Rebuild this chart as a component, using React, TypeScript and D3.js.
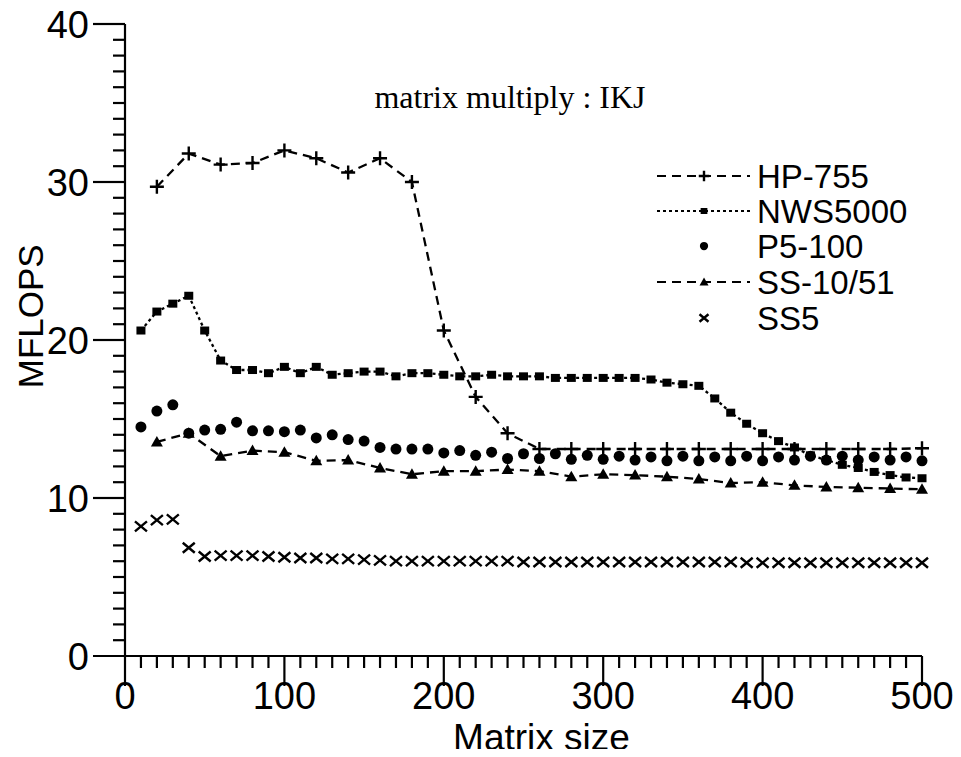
import * as d3 from "d3";

// matrix size on x, MFLOPS on y
const hpX = [20, 40, 60, 80, 100, 120, 140, 160, 180, 200, 220, 240, 260, 280, 300, 320, 340, 360, 380, 400, 420, 440, 460, 480, 500];
const hpY = [29.7, 31.8, 31.1, 31.2, 32.0, 31.5, 30.6, 31.5, 30.0, 20.6, 16.4, 14.1, 13.1, 13.1, 13.1, 13.1, 13.1, 13.1, 13.1, 13.1, 13.1, 13.1, 13.1, 13.1, 13.15];

const tenX = d3.range(10, 501, 10);
const nwsY = [20.6, 21.8, 22.3, 22.8, 20.6, 18.7, 18.1, 18.1, 17.9, 18.3, 17.9, 18.3, 17.8, 17.9, 18.0, 18.0, 17.7, 17.9, 17.9, 17.8,
  17.7, 17.7, 17.8, 17.7, 17.7, 17.7, 17.6, 17.6, 17.6, 17.6, 17.6, 17.6, 17.5, 17.3, 17.2, 17.1, 16.3, 15.4, 14.7, 14.1,
  13.6, 13.2, 12.7, 12.4, 12.1, 11.9, 11.65, 11.45, 11.3, 11.25];
const p5Y = [14.5, 15.5, 15.9, 14.1, 14.3, 14.35, 14.8, 14.25, 14.25, 14.2, 14.3, 13.8, 14.0, 13.7, 13.6, 13.2, 13.1, 13.1, 13.1, 12.85,
  13.0, 12.7, 12.9, 12.5, 12.8, 12.5, 12.8, 12.45, 12.7, 12.45, 12.65, 12.4, 12.6, 12.35, 12.65, 12.35, 12.6, 12.35, 12.65, 12.35,
  12.6, 12.4, 12.65, 12.4, 12.65, 12.4, 12.6, 12.4, 12.6, 12.35];
const ss5Y = [8.2, 8.6, 8.65, 6.85, 6.3, 6.35, 6.35, 6.35, 6.3, 6.25, 6.2, 6.2, 6.15, 6.15, 6.1, 6.05, 6.0, 6.0, 6.0, 6.0,
  6.0, 6.0, 6.0, 6.0, 5.95, 5.95, 5.95, 5.95, 5.95, 5.95, 5.95, 5.95, 5.95, 5.95, 5.95, 5.95, 5.95, 5.95, 5.9, 5.9,
  5.9, 5.9, 5.9, 5.9, 5.9, 5.9, 5.9, 5.9, 5.9, 5.9];
const ssX = hpX;
const ssY = [13.55, 14.1, 12.65, 13.0, 12.9, 12.35, 12.4, 11.9, 11.5, 11.7, 11.7, 11.8, 11.7, 11.35, 11.5, 11.45, 11.35, 11.2, 10.95, 11.0,
  10.8, 10.7, 10.65, 10.6, 10.55];

const legendNames = ["HP-755", "NWS5000", "P5-100", "SS-10/51", "SS5"];
const xTicks = [0, 100, 200, 300, 400, 500];
const yTicks = [0, 10, 20, 30, 40];

const sans = "'Liberation Sans', Arial, sans-serif";

function Marker({ kind, x, y, s = 1 }: { kind: string; x: number; y: number; s?: number }) {
  if (kind === "plus")
    return <path d={`M${x - 7 * s},${y}H${x + 7 * s}M${x},${y - 7 * s}V${y + 7 * s}`} stroke="#000" strokeWidth={2.4} />;
  if (kind === "square")
    return <rect x={x - 4.5 * s} y={y - 4 * s} width={9 * s} height={8 * s} fill="#000" />;
  if (kind === "circle") return <circle cx={x} cy={y} r={5.5 * s} fill="#000" />;
  if (kind === "tri")
    return <path d={`M${x},${y - 6 * s}L${x + 6 * s},${y + 4.5 * s}L${x - 6 * s},${y + 4.5 * s}Z`} fill="#000" />;
  return <path d={`M${x - 6 * s},${y - 5 * s}L${x + 6 * s},${y + 5 * s}M${x + 6 * s},${y - 5 * s}L${x - 6 * s},${y + 5 * s}`} stroke="#000" strokeWidth={2.4} />;
}

export default function App() {
  const x = d3.scaleLinear().domain([0, 500]).range([125, 922]);
  const y = d3.scaleLinear().domain([0, 40]).range([656, 24]);

  const line = d3
    .line<[number, number]>()
    .x((d) => x(d[0]))
    .y((d) => y(d[1]));

  const series = [
    { xs: hpX, ys: hpY, kind: "plus", dash: "9,6", line: true },
    { xs: tenX, ys: nwsY, kind: "square", dash: "3,3", line: true },
    { xs: tenX, ys: p5Y, kind: "circle", dash: "", line: false },
    { xs: ssX, ys: ssY, kind: "tri", dash: "9,6", line: true },
    { xs: tenX, ys: ss5Y, kind: "cross", dash: "", line: false },
  ];

  const legendY = [176, 211, 246, 282, 318];

  return (
    <svg width={961} height={757} style={{ display: "block", margin: -8 }}>
      <rect width={961} height={757} fill="#fff" />
      {/* axes */}
      <g stroke="#000" strokeWidth={2.2} fill="none">
        <line x1={x(0)} x2={x(0)} y1={y(40)} y2={y(0) + 30} />
        <line x1={x(0) - 32} x2={x(500)} y1={y(0)} y2={y(0)} />
        {d3.range(1, 40).map((v) => (
          <line key={"ym" + v} x1={x(0) - (v % 10 === 0 ? 32 : 12)} x2={x(0)} y1={y(v)} y2={y(v)} />
        ))}
        <line x1={x(0) - 32} x2={x(0)} y1={y(40)} y2={y(40)} />
        {d3.range(10, 501, 10).map((v) => (
          <line key={"xm" + v} x1={x(v)} x2={x(v)} y1={y(0)} y2={y(0) + (v % 100 === 0 ? 30 : 12)} />
        ))}
      </g>
      <g fontFamily={sans} fontSize={38} fill="#000">
        {yTicks.map((t) => (
          <text key={"yt" + t} x={89} y={y(t)} dy="0.36em" textAnchor="end">
            {t}
          </text>
        ))}
        {xTicks.map((t) => (
          <text key={"xt" + t} x={x(t)} y={709} textAnchor="middle">
            {t}
          </text>
        ))}
        <text x={x(250) + 18} y={750} textAnchor="middle" fontSize={37}>
          Matrix size
        </text>
        <text transform={`translate(43,${y(21.5)}) rotate(-90)`} textAnchor="middle" fontSize={35}>
          MFLOPS
        </text>
      </g>
      <text x={510} y={108} textAnchor="middle" fontFamily="'Liberation Serif', 'Times New Roman', serif" fontSize={32}>
        matrix multiply : IKJ
      </text>

      {/* series */}
      {series.map((s, i) => {
        const pts = s.xs.map((v, j) => [v, s.ys[j]] as [number, number]);
        return (
          <g key={"s" + i}>
            {s.line && (
              <path d={line(pts) || ""} fill="none" stroke="#000" strokeWidth={2.3} strokeDasharray={s.dash} />
            )}
            {pts.map((p, j) => (
              <Marker key={j} kind={s.kind} x={x(p[0])} y={y(p[1])} />
            ))}
          </g>
        );
      })}

      {/* legend */}
      {series.map((s, i) => (
        <g key={"l" + i}>
          {s.line && (
            <line x1={657} x2={750} y1={legendY[i]} y2={legendY[i]} stroke="#000" strokeWidth={2} strokeDasharray={s.dash} />
          )}
          <Marker kind={s.kind} x={704} y={legendY[i]} s={0.75} />
          <text x={757} y={legendY[i]} dy="0.36em" fontFamily={sans} fontSize={33}>
            {legendNames[i]}
          </text>
        </g>
      ))}
    </svg>
  );
}
